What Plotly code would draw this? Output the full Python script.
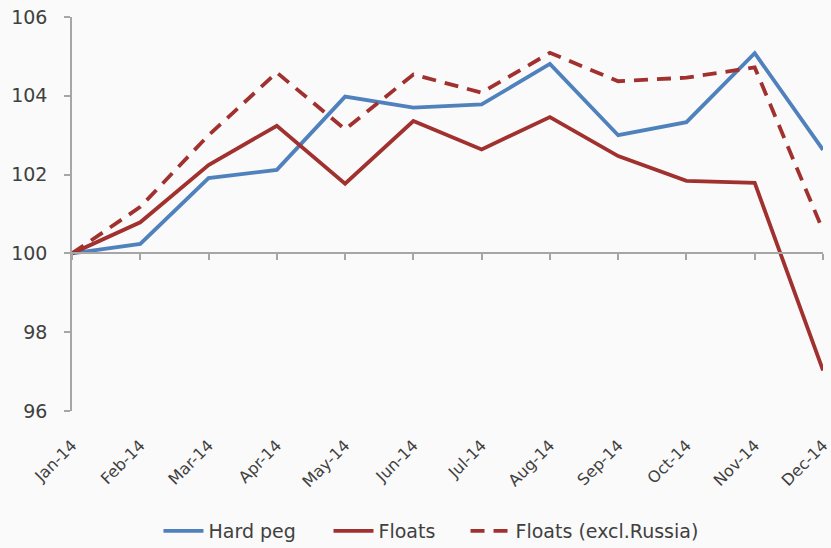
import plotly.graph_objects as go

# Monthly index, Jan-14 = 100
months = ["Jan-14", "Feb-14", "Mar-14", "Apr-14", "May-14", "Jun-14",
          "Jul-14", "Aug-14", "Sep-14", "Oct-14", "Nov-14", "Dec-14"]
hard_peg = [100.0, 100.24, 101.91, 102.12, 103.98, 103.70, 103.78, 104.81, 103.00, 103.33, 105.08, 102.63]
floats = [100.0, 100.79, 102.24, 103.24, 101.77, 103.36, 102.64, 103.46, 102.47, 101.84, 101.79, 97.03]
floats_ex_russia = [100.0, 101.18, 103.00, 104.59, 103.15, 104.54, 104.08, 105.09, 104.37, 104.46, 104.72, 100.58]

BLUE = "#4F81BD"
RED = "#A0312E"
TXT = "#404040"
AXIS = "#A6A6A6"
FONT = "DejaVu Sans"

fig = go.Figure()
fig.add_trace(go.Scatter(x=months, y=hard_peg, name="Hard peg", mode="lines",
                         line=dict(color=BLUE, width=3.8), legend="legend"))
fig.add_trace(go.Scatter(x=months, y=floats, name="Floats", mode="lines",
                         line=dict(color=RED, width=3.8), legend="legend2"))
fig.add_trace(go.Scatter(x=months, y=floats_ex_russia, name="Floats (excl.Russia)", mode="lines",
                         line=dict(color=RED, width=3.8, dash="14px,9px"), legend="legend3"))
# empty trace on the secondary axis so it renders the baseline at 100
fig.add_trace(go.Scatter(x=months, y=[None] * len(months), xaxis="x2", showlegend=False,
                         hoverinfo="skip"))

y_min, y_max = 96, 106

legend_style = dict(orientation="h", xref="container", yref="container",
                    y=0.031, yanchor="middle", xanchor="left",
                    font=dict(size=19, color=TXT), bgcolor="rgba(0,0,0,0)", itemwidth=40)

fig.update_layout(
    width=831, height=548,
    margin=dict(l=72, r=8, t=17, b=137),
    paper_bgcolor="#FAFAFA", plot_bgcolor="#FAFAFA",
    font=dict(family=FONT, color=TXT, size=18),
    xaxis=dict(
        type="category", categoryorder="array", categoryarray=months,
        range=[0, len(months) - 1], automargin=False,
        showgrid=False, zeroline=False, showline=False, ticks="",
        tickangle=-45, tickfont=dict(size=16, color=TXT),
        ticklabelstandoff=21,
    ),
    xaxis2=dict(
        type="category", categoryorder="array", categoryarray=months,
        matches="x", overlaying="x", anchor="free",
        position=(100 - y_min) / (y_max - y_min), automargin=False,
        showgrid=False, zeroline=False, showline=True, linecolor=AXIS, linewidth=1.5,
        ticks="outside", ticklen=6, tickcolor=AXIS, tickwidth=1.5,
        showticklabels=False,
    ),
    yaxis=dict(
        range=[y_min, y_max], dtick=2, tick0=96, automargin=False,
        showgrid=False, zeroline=False, showline=True, linecolor=AXIS, linewidth=1.5,
        ticks="outside", ticklen=6, tickcolor=AXIS, tickwidth=1.5,
        tickfont=dict(size=19, color=TXT), ticklabelstandoff=13,
    ),
    legend=dict(legend_style, x=0.1907),
    legend2=dict(legend_style, x=0.3953),
    legend3=dict(legend_style, x=0.5602),
)

fig.write_html("out.html")
